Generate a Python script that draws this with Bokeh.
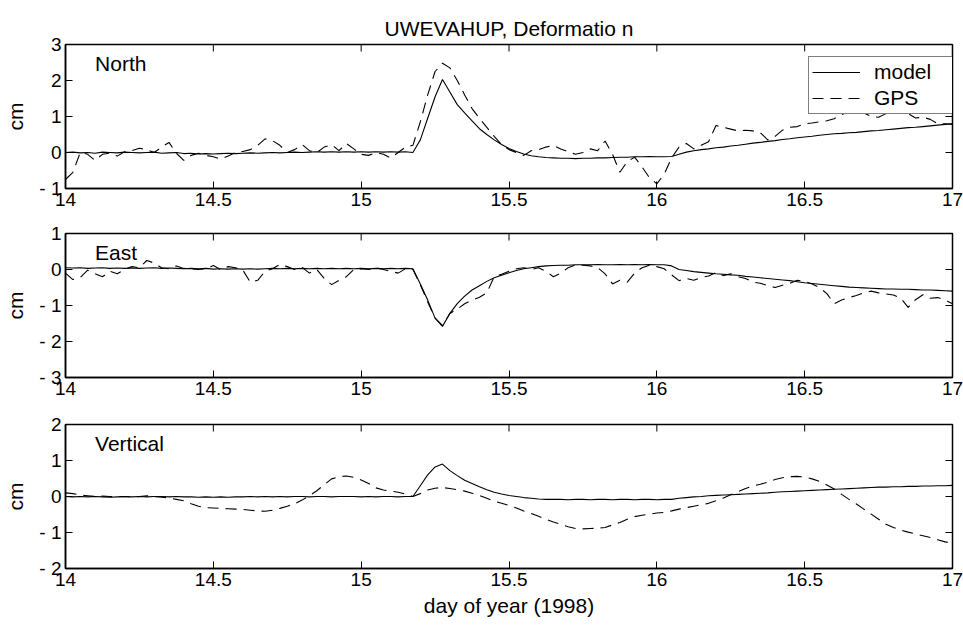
import math
from bokeh.plotting import figure
from bokeh.models import Range1d, FixedTicker, Label, Legend, LegendItem, Title
from bokeh.layouts import column
from bokeh.embed import file_html
from bokeh.resources import INLINE

FONT = "Liberation Sans"

# sampling grid: day of year 1998, every 0.025 day
day = [round(14 + 0.025 * i, 3) for i in range(121)]

north_model = [
    0.00, 0.01, -0.01, 0.00, -0.02, 0.01, 0.00, -0.01, 0.01, 0.00,
    -0.01, 0.00, 0.01, -0.02, -0.01, 0.00, -0.03, -0.02, -0.04, -0.03,
    -0.04, -0.03, -0.02, -0.03, -0.02, -0.01, -0.02, -0.01, 0.00, -0.01,
    0.00, 0.01, 0.00, 0.01, 0.02, 0.01, 0.02, 0.01, 0.02, 0.01,
    0.02, 0.01, 0.02, 0.01, 0.02, 0.01, 0.02, 0.00, 0.35, 0.95,
    1.55, 2.03, 1.68, 1.33, 1.10, 0.88, 0.66, 0.50, 0.35, 0.22,
    0.11, 0.03, -0.04, -0.09, -0.12, -0.14, -0.15, -0.16, -0.16, -0.17,
    -0.16, -0.16, -0.15, -0.15, -0.14, -0.13, -0.13, -0.12, -0.12, -0.11,
    -0.12, -0.12, -0.11, -0.05, 0.01, 0.05, 0.08, 0.10, 0.13, 0.15,
    0.18, 0.20, 0.23, 0.26, 0.28, 0.31, 0.33, 0.36, 0.38, 0.41,
    0.43, 0.45, 0.48, 0.50, 0.52, 0.53, 0.55, 0.56, 0.58, 0.60,
    0.61, 0.63, 0.65, 0.67, 0.69, 0.70, 0.72, 0.74, 0.76, 0.78, 0.80,
]
north_gps = [
    -0.75, -0.55, 0.00, -0.05, -0.22, -0.05, -0.02, -0.10, 0.02, 0.05,
    0.12, 0.08, 0.00, 0.15, 0.28, -0.02, -0.22, -0.08, -0.02, -0.08,
    -0.12, -0.18, -0.10, 0.00, 0.03, 0.08, 0.20, 0.38, 0.33, 0.20,
    0.00, 0.08, 0.22, 0.05, 0.00, 0.15, 0.22, 0.05, 0.25, 0.10,
    -0.05, -0.08, 0.00, -0.05, -0.15, 0.00, 0.15, 0.20, 0.85, 1.60,
    2.25, 2.48, 2.35, 2.00, 1.60, 1.22, 0.95, 0.70, 0.45, 0.22,
    0.08, 0.00, -0.08, 0.05, 0.08, 0.15, 0.20, 0.10, 0.02, -0.05,
    0.00, 0.10, 0.05, 0.32, -0.05, -0.55, -0.25, -0.13, -0.40, -0.70,
    -0.87, -0.60, -0.15, 0.15, 0.25, 0.10, 0.20, 0.30, 0.75, 0.70,
    0.65, 0.60, 0.62, 0.60, 0.55, 0.35, 0.45, 0.62, 0.70, 0.72,
    0.80, 0.82, 0.85, 0.88, 0.94, 1.05, 1.13, 1.17, 1.10, 1.00,
    0.98, 1.08, 1.15, 1.20, 1.08, 0.96, 0.98, 0.92, 0.80, 0.80, 0.78,
]

east_model = [
    0.05, 0.04, 0.05, 0.03, 0.04, 0.05, 0.03, 0.04, 0.03, 0.04,
    0.03, 0.04, 0.05, 0.03, 0.04, 0.03, 0.02, 0.03, 0.02, 0.03,
    0.01, 0.02, 0.01, 0.02, 0.01, 0.02, 0.01, 0.02, 0.03, 0.02,
    0.03, 0.02, 0.03, 0.02, 0.03, 0.02, 0.03, 0.02, 0.03, 0.02,
    0.03, 0.02, 0.03, 0.02, 0.03, 0.02, 0.03, 0.02, -0.40, -0.85,
    -1.35, -1.58, -1.22, -0.95, -0.74, -0.57, -0.45, -0.33, -0.23, -0.16,
    -0.09, -0.03, 0.02, 0.05, 0.08, 0.10, 0.11, 0.12, 0.12, 0.13,
    0.13, 0.13, 0.14, 0.13, 0.13, 0.14, 0.13, 0.14, 0.13, 0.14,
    0.13, 0.13, 0.10, 0.00, -0.03, -0.06, -0.08, -0.10, -0.12, -0.13,
    -0.15, -0.16, -0.19, -0.21, -0.23, -0.25, -0.27, -0.29, -0.31, -0.34,
    -0.37, -0.39, -0.41, -0.43, -0.45, -0.47, -0.49, -0.50, -0.51, -0.52,
    -0.53, -0.54, -0.54, -0.55, -0.55, -0.56, -0.57, -0.57, -0.58, -0.59, -0.60,
]
east_gps = [
    -0.10, -0.28, -0.22, -0.02, -0.12, -0.20, -0.05, -0.12, 0.00, 0.08,
    0.05, 0.25, 0.18, 0.05, 0.02, 0.10, 0.03, 0.02, 0.00, 0.02,
    0.11, 0.00, 0.08, 0.05, -0.02, -0.35, -0.30, -0.05, 0.02, 0.14,
    0.08, 0.00, 0.06, -0.10, 0.00, -0.25, -0.42, -0.30, -0.20, 0.00,
    0.02, 0.00, 0.05, 0.00, -0.05, -0.10, 0.02, 0.00, -0.42, -0.90,
    -1.35, -1.55, -1.22, -1.10, -0.95, -0.85, -0.77, -0.65, -0.20, -0.13,
    -0.05, 0.02, 0.05, 0.00, 0.05, -0.05, -0.20, -0.10, 0.05, 0.13,
    0.12, 0.10, 0.05, -0.12, -0.40, -0.30, -0.35, -0.10, 0.05, 0.12,
    0.08, 0.02, -0.15, -0.31, -0.25, -0.30, -0.22, -0.18, -0.08, -0.17,
    -0.12, -0.20, -0.25, -0.35, -0.38, -0.45, -0.50, -0.44, -0.38, -0.30,
    -0.33, -0.40, -0.50, -0.67, -0.95, -0.85, -0.78, -0.72, -0.65, -0.60,
    -0.65, -0.68, -0.71, -0.80, -1.05, -0.84, -0.70, -0.80, -0.78, -0.85, -0.95,
]

vert_model = [
    0.00, -0.01, 0.00, -0.01, 0.00, -0.01, -0.02, -0.01, 0.00, -0.01,
    0.00, -0.01, 0.00, 0.00, -0.01, 0.00, -0.01, -0.01, -0.02, -0.01,
    -0.02, -0.01, -0.02, -0.01, -0.01, 0.00, -0.01, 0.00, -0.01, 0.00,
    -0.01, 0.00, 0.00, -0.01, 0.00, 0.00, -0.01, 0.00, 0.00, 0.00,
    -0.01, 0.00, -0.01, 0.00, 0.00, -0.01, 0.00, 0.00, 0.30, 0.60,
    0.82, 0.90, 0.72, 0.58, 0.45, 0.36, 0.27, 0.19, 0.12, 0.07,
    0.03, 0.00, -0.03, -0.05, -0.07, -0.08, -0.08, -0.08, -0.09, -0.08,
    -0.08, -0.09, -0.08, -0.08, -0.09, -0.08, -0.08, -0.09, -0.08, -0.08,
    -0.09, -0.08, -0.08, -0.05, -0.03, -0.01, 0.00, 0.02, 0.03, 0.04,
    0.05, 0.06, 0.07, 0.08, 0.09, 0.10, 0.12, 0.13, 0.14, 0.15,
    0.16, 0.17, 0.18, 0.19, 0.20, 0.21, 0.22, 0.23, 0.24, 0.25,
    0.26, 0.26, 0.27, 0.27, 0.28, 0.28, 0.29, 0.29, 0.30, 0.30, 0.31,
]
vert_gps = [
    0.10, 0.08, 0.04, 0.02, 0.00, 0.01, 0.00, -0.01, 0.00, -0.02,
    0.00, 0.02, 0.00, -0.02, -0.04, -0.08, -0.12, -0.20, -0.27, -0.31,
    -0.32, -0.33, -0.34, -0.35, -0.36, -0.38, -0.40, -0.41, -0.38, -0.33,
    -0.27, -0.20, -0.10, 0.02, 0.16, 0.33, 0.49, 0.55, 0.57, 0.53,
    0.46, 0.36, 0.24, 0.18, 0.15, 0.12, 0.07, 0.00, 0.08, 0.18,
    0.23, 0.25, 0.22, 0.19, 0.15, 0.09, 0.03, -0.05, -0.13, -0.19,
    -0.25, -0.32, -0.40, -0.47, -0.55, -0.63, -0.71, -0.77, -0.84, -0.89,
    -0.90, -0.89, -0.88, -0.86, -0.79, -0.72, -0.63, -0.56, -0.52, -0.49,
    -0.46, -0.44, -0.40, -0.35, -0.31, -0.27, -0.23, -0.19, -0.12, -0.04,
    0.05, 0.14, 0.22, 0.29, 0.34, 0.40, 0.47, 0.52, 0.55, 0.56,
    0.54, 0.49, 0.42, 0.32, 0.21, 0.06, -0.08, -0.21, -0.35, -0.49,
    -0.63, -0.77, -0.86, -0.93, -0.99, -1.04, -1.09, -1.14, -1.20, -1.26, -1.30,
]

x_ticks = [14, 14.5, 15, 15.5, 16, 16.5, 17]
x_tick_labels = ["14", "14.5", "15", "15.5", "16", "16.5", "17"]
north_ticks = [-1, 0, 1, 2, 3]
north_tick_labels = ["- 1", "0", "1", "2", "3"]
east_ticks = [-3, -2, -1, 0, 1]
east_tick_labels = ["- 3", "- 2", "- 1", "0", "1"]
vert_ticks = [-2, -1, 0, 1, 2]
vert_tick_labels = ["- 2", "- 1", "0", "1", "2"]

TICK_FS = "19px"
TEXT_FS = "21px"
W = 963


def style_axis(ax, ticks, labels):
    ax.ticker = FixedTicker(ticks=ticks)
    ax.major_label_overrides = {t: l for t, l in zip(ticks, labels)}
    ax.major_tick_in = 7
    ax.major_tick_out = 0
    ax.minor_tick_line_color = None
    ax.major_tick_line_color = "black"
    ax.major_tick_line_width = 1
    ax.axis_line_color = "black"
    ax.axis_line_width = 1.5
    ax.major_label_text_font = FONT
    ax.major_label_text_color = "black"
    ax.major_label_text_font_size = TICK_FS
    ax.major_label_standoff = 4
    ax.axis_label_text_font = FONT
    ax.axis_label_text_font_style = "normal"
    ax.axis_label_text_font_size = TEXT_FS
    ax.axis_label_text_color = "black"


def make_panel(name, model, gps, y_lo, y_hi, y_ticks, y_labels, height,
               b_top, b_bottom, title=None, xlabel=None, legend=False):
    p = figure(width=W, height=height, x_range=Range1d(14, 17),
               y_range=Range1d(y_lo, y_hi), output_backend="svg",
               toolbar_location=None, min_border_left=65, min_border_right=11,
               min_border_top=b_top, min_border_bottom=b_bottom)
    p.background_fill_color = "white"
    p.border_fill_color = "white"
    p.xgrid.visible = False
    p.ygrid.visible = False
    p.outline_line_color = "black"
    p.outline_line_width = 1.5

    style_axis(p.xaxis[0], x_ticks, x_tick_labels)
    style_axis(p.yaxis[0], y_ticks, y_labels)
    p.yaxis[0].axis_label = "cm"
    p.yaxis[0].axis_label_standoff = 9
    if xlabel:
        p.xaxis[0].axis_label = xlabel
        p.xaxis[0].axis_label_standoff = 5

    # inward ticks on the top and right edges of the box
    p.ray(x=x_ticks, y=[y_hi] * len(x_ticks), length=7, length_units="screen",
          angle=-math.pi / 2, line_color="black", line_width=1)
    p.ray(x=[17] * len(y_ticks), y=y_ticks, length=7, length_units="screen",
          angle=math.pi, line_color="black", line_width=1)

    if title:
        p.title = Title(text=title, align="center", text_font=FONT,
                        text_font_size=TEXT_FS, text_font_style="normal",
                        text_color="black", standoff=10)

    r_model = p.line(day, model, line_color="black", line_width=1.1)
    r_gps = p.line(day, gps, line_color="black", line_width=1.1,
                   line_dash="11 7")

    p.add_layout(Label(x=14.1, y=y_hi - 19 / 36, text=name, text_font=FONT,
                       text_font_size=TEXT_FS, text_color="black",
                       text_baseline="alphabetic"))

    if legend:
        lg = Legend(items=[LegendItem(label="model", renderers=[r_model]),
                           LegendItem(label="GPS", renderers=[r_gps])],
                    location=(743, 74), orientation="vertical",
                    label_text_font=FONT, label_text_font_size=TEXT_FS,
                    label_text_color="black", label_standoff=14,
                    glyph_width=48, glyph_height=20, label_height=20,
                    label_width=75, spacing=2, padding=3, margin=0,
                    border_line_color="black", border_line_width=1.2,
                    background_fill_color="white", background_fill_alpha=1.0)
        p.add_layout(lg)
    return p


p1 = make_panel("North", north_model, north_gps, -1, 3, north_ticks,
                north_tick_labels, 222, 44, 34,
                title="UWEVAHUP, Deformatio n", legend=True)
p2 = make_panel("East", east_model, east_gps, -3, 1, east_ticks,
                east_tick_labels, 188, 11, 33)
p3 = make_panel("Vertical", vert_model, vert_gps, -2, 2, vert_ticks,
                vert_tick_labels, 215, 14, 57, xlabel="day of year (1998)")

layout = column(p1, p2, p3, spacing=0)
open("out.html", "w").write(file_html(layout, INLINE))
